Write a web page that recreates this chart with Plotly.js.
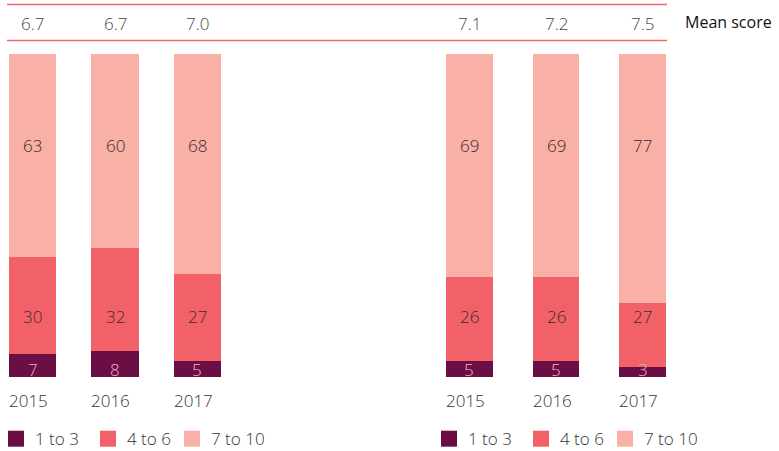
<!DOCTYPE html>
<html>
<head>
<meta charset="utf-8">
<script src="https://cdn.plot.ly/plotly-3.0.1.min.js"></script>
<style>html,body{margin:0;padding:0;background:#fff;}#chart{width:779px;height:451px;}</style>
</head>
<body>
<div id="chart"></div>
<script>
// ---- data ----
var years = ['2015', '2016', '2017'];
var seriesNames = ['1 to 3', '4 to 6', '7 to 10'];

var meanA = [6.7, 6.7, 7.0];
var lowA  = [7, 8, 5];
var midA  = [30, 32, 27];
var highA = [63, 60, 68];

var meanB = [7.1, 7.2, 7.5];
var lowB  = [5, 5, 3];
var midB  = [26, 26, 20];       // drawn heights
var midLabelsB = [26, 26, 27];  // printed labels
var highB = [69, 69, 77];

// ---- styles ----
var colors = ['#6b0e44', '#f26167', '#f9b0a7'];
var FONT = 'Open Sans, Lato, sans-serif';
var W = 779, H = 451;
var wA = 0.57, wB = 0.543;
function px(v){ return v / W; }
function py(v){ return 1 - v / H; }

var groups = [
  {xa: 'x',  low: lowA, mid: midA, high: highA, midText: midA, high: highA, mean: meanA, w: wA},
  {xa: 'x2', low: lowB, mid: midB, high: highB, midText: midLabelsB, mean: meanB, w: wB}
];

var traces = [];
var annotations = [];
var labelY = [2.4, 18.7, 71.7];
var labelColor = ['#e9b6cc', '#3b2a2c', '#3b2a2c'];

groups.forEach(function(g){
  var vals = [g.low, g.mid, g.high];
  var texts = [g.low, g.midText, g.high];
  vals.forEach(function(v, s){
    traces.push({
      type: 'bar', x: years, y: v, name: seriesNames[s],
      xaxis: g.xa, yaxis: 'y', width: g.w,
      marker: {color: colors[s], line: {width: 0}},
      showlegend: false, hoverinfo: 'skip'
    });
    years.forEach(function(yr, i){
      annotations.push({
        x: i, y: labelY[s], xref: g.xa, yref: 'y',
        text: String(texts[s][i]), showarrow: false,
        xanchor: 'center', yanchor: 'middle',
        font: {family: FONT, size: 17, weight: 300, color: labelColor[s]}
      });
    });
  });
  years.forEach(function(yr, i){
    // mean score
    annotations.push({
      x: i, y: py(23), xref: g.xa, yref: 'paper',
      text: g.mean[i].toFixed(1), showarrow: false,
      xanchor: 'center', yanchor: 'middle',
      font: {family: FONT, size: 17, weight: 300, color: '#444'}
    });
    // year label, left-aligned with the bar
    annotations.push({
      x: i - g.w / 2, y: py(400), xref: g.xa, yref: 'paper',
      text: yr, showarrow: false,
      xanchor: 'left', yanchor: 'middle', xshift: -2,
      font: {family: FONT, size: 17, weight: 300, color: '#333'}
    });
  });
});

annotations.push({
  x: px(683), y: py(22), xref: 'paper', yref: 'paper',
  text: 'Mean score', showarrow: false, xanchor: 'left', yanchor: 'middle',
  font: {family: FONT, size: 16, weight: 400, color: '#111'}
});

var shapes = [
  {type: 'line', xref: 'paper', yref: 'paper', x0: px(7), x1: px(667), y0: py(4.5), y1: py(4.5),
   line: {color: '#f0646c', width: 1.5}},
  {type: 'line', xref: 'paper', yref: 'paper', x0: px(7), x1: px(667), y0: py(40.5), y1: py(40.5),
   line: {color: '#f0646c', width: 1.5}}
];

// legends (one per group)
var legendX = [[8, 100, 184], [441, 533, 617]];
legendX.forEach(function(row){
  row.forEach(function(x0, s){
    shapes.push({type: 'rect', xref: 'paper', yref: 'paper',
      x0: px(x0), x1: px(x0 + 16), y0: py(446.7), y1: py(430.7),
      fillcolor: colors[s], line: {width: 0}});
    annotations.push({
      x: px(x0 + 25), y: py(438.7), xref: 'paper', yref: 'paper',
      text: seriesNames[s], showarrow: false, xanchor: 'left', yanchor: 'middle',
      font: {family: FONT, size: 17, weight: 300, color: '#333'}
    });
  });
});

var layout = {
  width: W, height: H,
  margin: {l: 0, r: 0, t: 0, b: 0},
  paper_bgcolor: '#fff', plot_bgcolor: '#fff',
  barmode: 'stack', showlegend: false,
  xaxis: {domain: [px(9), px(221)], range: [-wA / 2, 2 + wA / 2], type: 'category',
          showticklabels: false, showgrid: false, zeroline: false, showline: false, ticks: '', anchor: 'y'},
  xaxis2: {domain: [px(446), px(666)], range: [-wB / 2, 2 + wB / 2], type: 'category',
          showticklabels: false, showgrid: false, zeroline: false, showline: false, ticks: '', anchor: 'y'},
  yaxis: {domain: [1 - 377 / H, 1 - 54 / H], range: [0, 100], showticklabels: false,
          showgrid: false, zeroline: false, showline: false, ticks: ''},
  shapes: shapes,
  annotations: annotations,
  font: {family: FONT}
};

Plotly.newPlot('chart', traces, layout, {staticPlot: true, displayModeBar: false});
</script>
</body>
</html>
